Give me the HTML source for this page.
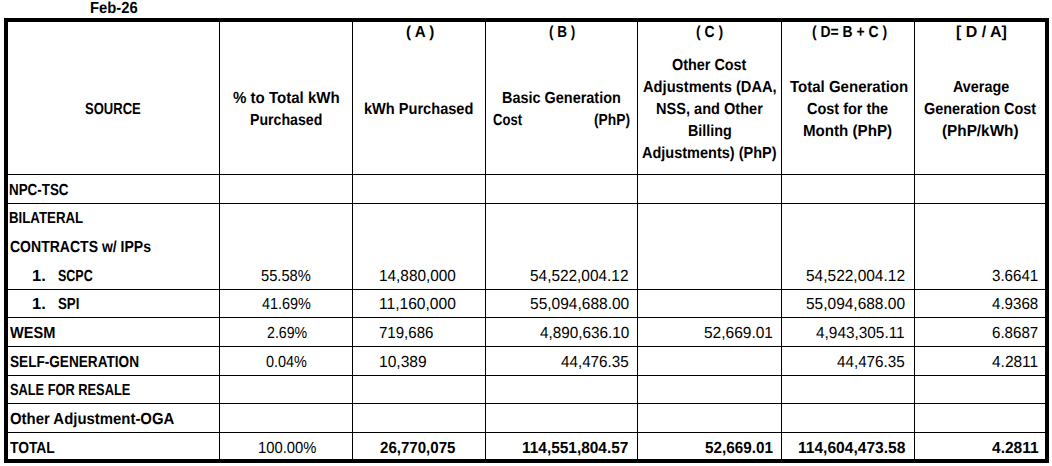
<!DOCTYPE html>
<html><head><meta charset="utf-8"><title>Generation Cost Feb-26</title>
<style>
html,body{margin:0;padding:0;background:#fff;}
body{width:1052px;height:466px;position:relative;overflow:hidden;font-family:"Liberation Sans",sans-serif;color:#000;}
.t{position:absolute;white-space:nowrap;text-rendering:geometricPrecision;font-size:16.0px;line-height:20px;transform-origin:0 0;}
.b{font-weight:bold;}
.box{position:absolute;left:4px;top:18px;width:1037px;height:437px;border:4px solid #000;}
.v{position:absolute;top:22px;width:1px;height:437px;background:#000;}
.h{position:absolute;left:8px;width:1037px;height:1px;background:#000;}
</style></head><body>
<div class="box"></div>
<div class="v" style="left:219px"></div>
<div class="v" style="left:352px"></div>
<div class="v" style="left:485px"></div>
<div class="v" style="left:637px"></div>
<div class="v" style="left:781px"></div>
<div class="v" style="left:914px"></div>
<div class="h" style="top:174px"></div>
<div class="h" style="top:203px"></div>
<div class="h" style="top:289px"></div>
<div class="h" style="top:317px"></div>
<div class="h" style="top:346px"></div>
<div class="h" style="top:375px"></div>
<div class="h" style="top:403px"></div>
<div class="h" style="top:432px"></div>
<div class="t b" style="left:89.84px;top:-1.00px;transform:scaleX(0.9228)">Feb-26</div>
<div class="t b" style="left:406.02px;top:23.00px;transform:scaleX(0.9450)">( A )</div>
<div class="t b" style="left:549.00px;top:23.00px;transform:scaleX(0.8449)">( B )</div>
<div class="t b" style="left:696.24px;top:23.00px;transform:scaleX(0.8696)">( C )</div>
<div class="t b" style="left:811.52px;top:23.00px;transform:scaleX(0.8703)">( D= B + C )</div>
<div class="t b" style="left:955.96px;top:23.00px;transform:scaleX(0.9981)">[ D / A]</div>
<div class="t b" style="left:85.00px;top:100.00px;transform:scaleX(0.8142)">SOURCE</div>
<div class="t b" style="left:233.26px;top:89.00px;transform:scaleX(0.9406)">% to Total kWh</div>
<div class="t b" style="left:249.86px;top:111.00px;transform:scaleX(0.8838)">Purchased</div>
<div class="t b" style="left:364.35px;top:100.00px;transform:scaleX(0.9111)">kWh Purchased</div>
<div class="t b" style="left:501.58px;top:89.00px;transform:scaleX(0.9030)">Basic Generation</div>
<div class="t b" style="left:492.98px;top:111.00px;transform:scaleX(0.8149)">Cost</div>
<div class="t b" style="left:593.50px;top:111.00px;transform:scaleX(0.8623)">(PhP)</div>
<div class="t b" style="left:671.98px;top:56.00px;transform:scaleX(0.9001)">Other Cost</div>
<div class="t b" style="left:643.26px;top:78.00px;transform:scaleX(0.9169)">Adjustments (DAA,</div>
<div class="t b" style="left:655.59px;top:100.00px;transform:scaleX(0.9106)">NSS, and Other</div>
<div class="t b" style="left:687.86px;top:122.00px;transform:scaleX(0.8971)">Billing</div>
<div class="t b" style="left:641.98px;top:144.00px;transform:scaleX(0.9063)">Adjustments) (PhP)</div>
<div class="t b" style="left:789.52px;top:78.00px;transform:scaleX(0.9386)">Total Generation</div>
<div class="t b" style="left:807.24px;top:100.00px;transform:scaleX(0.9039)">Cost for the</div>
<div class="t b" style="left:803.03px;top:122.00px;transform:scaleX(0.9450)">Month (PhP)</div>
<div class="t b" style="left:952.76px;top:78.00px;transform:scaleX(0.8979)">Average</div>
<div class="t b" style="left:923.98px;top:100.00px;transform:scaleX(0.9010)">Generation Cost</div>
<div class="t b" style="left:941.98px;top:122.00px;transform:scaleX(0.9568)">(PhP/kWh)</div>
<div class="t b" style="left:8.66px;top:181.00px;transform:scaleX(0.8368)">NPC-TSC</div>
<div class="t b" style="left:8.67px;top:209.00px;transform:scaleX(0.8287)">BILATERAL</div>
<div class="t b" style="left:9.50px;top:238.00px;transform:scaleX(0.8760)">CONTRACTS w/ IPPs</div>
<div class="t b" style="left:32.23px;top:267.00px;transform:scaleX(1.0321)">1.</div>
<div class="t b" style="left:57.52px;top:267.00px;transform:scaleX(0.7800)">SCPC</div>
<div class="t b" style="left:32.23px;top:295.00px;transform:scaleX(1.0321)">1.</div>
<div class="t b" style="left:57.52px;top:295.00px;transform:scaleX(0.8286)">SPI</div>
<div class="t b" style="left:9.52px;top:324.00px;transform:scaleX(0.9101)">WESM</div>
<div class="t b" style="left:9.52px;top:353.00px;transform:scaleX(0.8500)">SELF-GENERATION</div>
<div class="t b" style="left:9.52px;top:381.00px;transform:scaleX(0.8005)">SALE FOR RESALE</div>
<div class="t b" style="left:9.52px;top:410.00px;transform:scaleX(0.9321)">Other Adjustment-OGA</div>
<div class="t b" style="left:9.52px;top:439.00px;transform:scaleX(0.8642)">TOTAL</div>
<div class="t" style="left:261.46px;top:267.00px;transform:scaleX(0.9167)">55.58%</div>
<div class="t" style="left:262.26px;top:295.00px;transform:scaleX(0.9019)">41.69%</div>
<div class="t" style="left:267.02px;top:324.00px;transform:scaleX(0.8861)">2.69%</div>
<div class="t" style="left:265.98px;top:353.00px;transform:scaleX(0.9025)">0.04%</div>
<div class="t" style="left:257.60px;top:439.00px;transform:scaleX(0.9242)">100.00%</div>
<div class="t" style="left:378.52px;top:267.00px;transform:scaleX(0.9598)">14,880,000</div>
<div class="t" style="left:378.51px;top:295.00px;transform:scaleX(0.9745)">11,160,000</div>
<div class="t" style="left:379.48px;top:324.00px;transform:scaleX(0.9410)">719,686</div>
<div class="t" style="left:378.51px;top:353.00px;transform:scaleX(0.9742)">10,389</div>
<div class="t b" style="left:379.76px;top:439.00px;transform:scaleX(0.9416)">26,770,075</div>
<div class="t" style="left:530.20px;top:267.00px;transform:scaleX(0.9623)">54,522,004.12</div>
<div class="t" style="left:530.20px;top:295.00px;transform:scaleX(0.9699)">55,094,688.00</div>
<div class="t" style="left:540.26px;top:324.00px;transform:scaleX(0.9546)">4,890,636.10</div>
<div class="t" style="left:561.02px;top:353.00px;transform:scaleX(0.9503)">44,476.35</div>
<div class="t b" style="left:521.52px;top:439.00px;transform:scaleX(0.9640)">114,551,804.57</div>
<div class="t" style="left:703.94px;top:324.00px;transform:scaleX(0.9691)">52,669.01</div>
<div class="t b" style="left:704.76px;top:439.00px;transform:scaleX(0.9542)">52,669.01</div>
<div class="t" style="left:806.42px;top:267.00px;transform:scaleX(0.9676)">54,522,004.12</div>
<div class="t" style="left:806.42px;top:295.00px;transform:scaleX(0.9676)">55,094,688.00</div>
<div class="t" style="left:815.98px;top:324.00px;transform:scaleX(0.9611)">4,943,305.11</div>
<div class="t" style="left:836.98px;top:353.00px;transform:scaleX(0.9503)">44,476.35</div>
<div class="t b" style="left:798.01px;top:439.00px;transform:scaleX(0.9733)">114,604,473.58</div>
<div class="t" style="left:992.26px;top:267.00px;transform:scaleX(0.9437)">3.6641</div>
<div class="t" style="left:992.26px;top:295.00px;transform:scaleX(0.9437)">4.9368</div>
<div class="t" style="left:992.26px;top:324.00px;transform:scaleX(0.9437)">6.8687</div>
<div class="t" style="left:992.26px;top:353.00px;transform:scaleX(0.9672)">4.2811</div>
<div class="t b" style="left:991.76px;top:439.00px;transform:scaleX(0.9714)">4.2811</div>
</body></html>
